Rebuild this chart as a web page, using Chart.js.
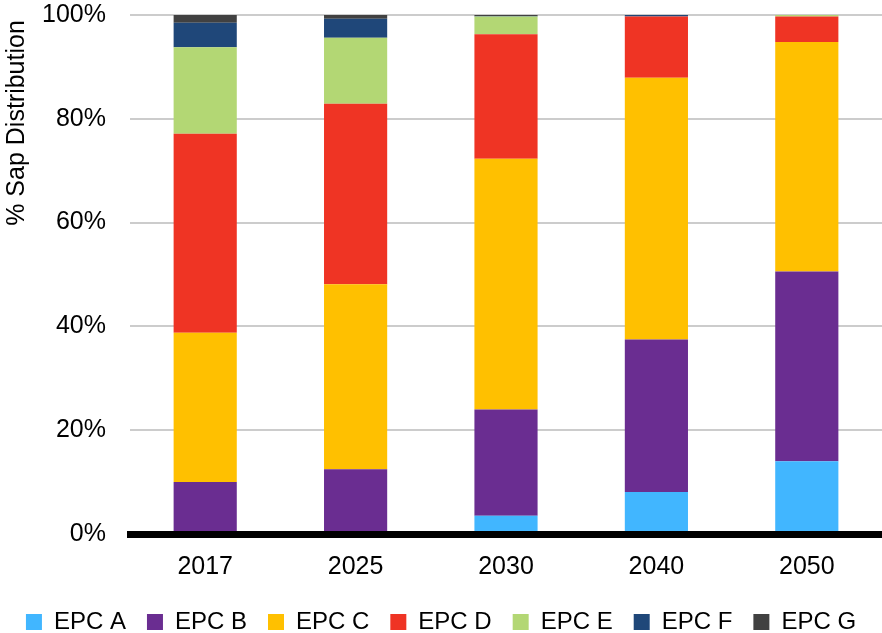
<!DOCTYPE html>
<html>
<head>
<meta charset="utf-8">
<script src="https://cdn.jsdelivr.net/npm/chart.js@4"></script>
<style>
  html, body { margin: 0; padding: 0; background: #fff; }
  #wrap { width: 882px; height: 633px; }
</style>
</head>
<body>
<div id="wrap"><canvas id="grafica"></canvas></div>
<script>
const anios = ['2017', '2025', '2030', '2040', '2050'];
const epc_a = [0, 0, 3.5, 8.1, 14.0];
const epc_b = [10.0, 12.5, 20.5, 29.4, 36.6];
const epc_c = [28.8, 35.6, 48.3, 50.4, 44.2];
const epc_d = [38.3, 34.8, 24.0, 11.8, 4.9];
const epc_e = [16.7, 12.7, 3.4, 0, 0.3];
const epc_f = [4.7, 3.7, 0.1, 0.3, 0];
const epc_g = [1.5, 0.7, 0.2, 0, 0];
const ticks_y = ['0%', '20%', '40%', '60%', '80%', '100%'];

const fuente = 'Liberation Sans, Arial, sans-serif';
Chart.defaults.font.family = fuente;
Chart.defaults.color = '#000';

// titulo del eje y, dibujado a mano para dejarlo arriba como en el original
const tituloY = {
  id: 'tituloY',
  afterDraw(chart) {
    const c = chart.ctx;
    c.save();
    c.translate(17, 123);
    c.rotate(-Math.PI / 2);
    c.font = '25px ' + fuente;
    c.fillStyle = '#000';
    c.textAlign = 'center';
    c.textBaseline = 'middle';
    c.fillText('% Sap Distribution', 0, 0);
    c.restore();
  }
};

const serie = (label, data, color) => ({
  label, data, backgroundColor: color, borderWidth: 0,
  barPercentage: 0.42, categoryPercentage: 1
});

const ctx = document.getElementById('grafica').getContext('2d');
new Chart(ctx, {
  type: 'bar',
  data: {
    labels: anios,
    datasets: [
      serie('EPC A', epc_a, '#41b6ff'),
      serie('EPC B', epc_b, '#6a2d91'),
      serie('EPC C', epc_c, '#ffc000'),
      serie('EPC D', epc_d, '#ef3424'),
      serie('EPC E', epc_e, '#b3d774'),
      serie('EPC F', epc_f, '#1f4779'),
      serie('EPC G', epc_g, '#414141')
    ]
  },
  options: {
    responsive: true,
    maintainAspectRatio: false,
    animation: false,
    layout: { padding: { top: 0, left: 0, right: 0, bottom: -11 } },
    plugins: {
      legend: {
        display: true,
        position: 'bottom',
        labels: {
          boxWidth: 16,
          boxHeight: 16,
          padding: 21,
          font: { size: 24 }
        }
      },
      tooltip: { enabled: false }
    },
    scales: {
      x: {
        stacked: true,
        grid: { display: false, drawTicks: false },
        border: { display: true, color: '#000', width: 7, z: 1 },
        ticks: { padding: 18, font: { size: 25 } },
        afterFit(s) { s.height = 55; }
      },
      y: {
        stacked: true,
        min: 0,
        max: 100,
        border: { display: false },
        grid: { color: '#cccccc', lineWidth: 2, drawTicks: true, tickLength: 24, tickColor: 'rgba(0,0,0,0)' },
        ticks: {
          stepSize: 20,
          padding: 0,
          font: { size: 25 },
          callback: (v, i) => ticks_y[i]
        },
        afterFit(s) { s.width = 130; }
      }
    }
  },
  plugins: [tituloY]
});
</script>
</body>
</html>
